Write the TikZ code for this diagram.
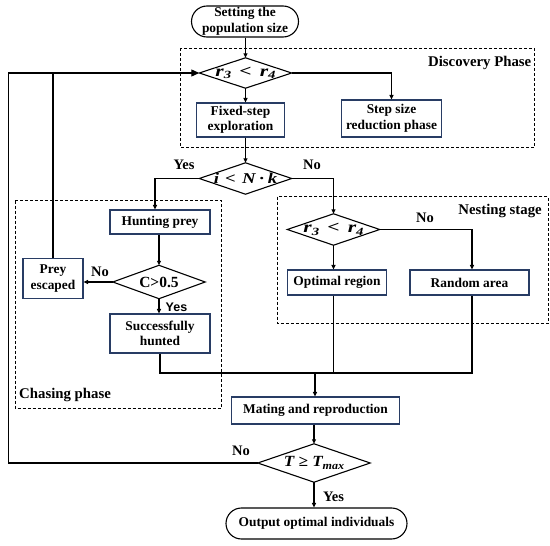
\documentclass[tikz,border=0pt]{standalone}
\usepackage{fontspec}
\usepackage{graphicx}
\setmainfont{Liberation Serif}
\newfontfamily\arialf{Liberation Sans}
\usetikzlibrary{shapes.misc,arrows.meta}
\definecolor{bx}{RGB}{40,60,100}
\newcommand\mysub[1]{\raisebox{-2.5pt}{\fontsize{11}{11}\selectfont\itshape #1}}
\newcommand\mylab[2]{\scalebox{#1}[1]{\bfseries\itshape #2}}
\begin{document}
\begin{tikzpicture}[x=1pt,y=-1pt,
  every node/.style={font=\bfseries\fontsize{13.4}{15.5}\selectfont, inner sep=0pt, align=center},
  pbox/.style={draw=bx, line width=1.1pt, rectangle},
  term/.style={draw=black, line width=1.1pt, rounded rectangle},
  dia/.style={rectangle},
  conn/.style={line width=1.1pt},
  arr/.style={conn, -{Triangle[length=4.5pt,width=4pt]}},
  bigarr/.style={conn, -{Triangle[length=8pt,width=7pt]}},
  dbox/.style={dashed, line width=1pt, dash pattern=on 3pt off 2pt},
  plbl/.style={font=\bfseries\fontsize{14.8}{17}\selectfont},
  lbl/.style={font=\bfseries\fontsize{14.5}{17}\selectfont}]
\useasboundingbox (0,0) rectangle (550,546);

% dashed phase boxes
\draw[dbox] (180.5,48) rectangle (534.5,147.3);
\draw[dbox] (15.2,200.7) rectangle (221.4,408.3);
\draw[dbox] (277.5,196.7) rectangle (548.3,323.3);
\node[plbl, anchor=east] (lDisc) at (531.5,63) {Discovery Phase};
\node[plbl, anchor=east] (lNest) at (542,211) {Nesting stage};
\node[plbl, anchor=west] (lChase) at (19,395) {Chasing phase};

% nodes
\node[term, minimum width=107, minimum height=31] (start) at (245,21.5) {Setting the\\population size};
\node[dia, minimum width=92, minimum height=30] (d1) at (245.5,73) {\fontsize{16}{16}\selectfont\mylab{1.35}{r\mysub{3}\hspace{6pt}<\hspace{6pt}r\mysub{4}}};
\node[pbox, minimum width=88, minimum height=34] (fix) at (240.5,120) {Fixed-step\\exploration};
\node[pbox, minimum width=100, minimum height=37] (step) at (391.5,118.5) {Step size\\reduction phase};
\node[dia, minimum width=92, minimum height=31] (d2) at (245.5,178.5) {\fontsize{15}{15}\selectfont\mylab{1.25}{i\hspace{5pt}<\hspace{5pt}N\hspace{3pt}·\hspace{3pt}k}};
\node[pbox, minimum width=100, minimum height=24] (hunt) at (160,222) {Hunting prey};
\node[dia, minimum width=92, minimum height=33] (c) at (159,282) {\fontsize{15.5}{15.5}\selectfont C>0.5};
\node[pbox, minimum width=60, minimum height=40] (prey) at (53,278.5) {Prey\\escaped};
\node[pbox, minimum width=100, minimum height=39] (succ) at (160,333.5) {Successfully\\hunted};
\node[dia, minimum width=92, minimum height=31] (d3) at (333.5,229.5) {\fontsize{16}{16}\selectfont\mylab{1.35}{r\mysub{3}\hspace{6pt}<\hspace{6pt}r\mysub{4}}};
\node[pbox, minimum width=99, minimum height=25] (opt) at (337,282.5) {Optimal region};
\node[pbox, minimum width=119, minimum height=25] (rand) at (469.5,282.5) {Random area};
\node[pbox, minimum width=168, minimum height=27] (mate) at (315.5,410.5) {Mating and reproduction};
\node[dia, minimum width=112, minimum height=38] (d4) at (314,463) {\fontsize{15.5}{15.5}\selectfont\mylab{1.1}{T\hspace{4pt}≥\hspace{4pt}T\mysub{max}}};
\node[term, minimum width=181, minimum height=31] (out) at (316.5,523.5) {Output optimal individuals};

% diamond outlines
\foreach \d in {d1,d2,c,d3,d4}
  \draw[line width=1.1pt] (\d.north) -- (\d.east) -- (\d.south) -- (\d.west) -- cycle;

% branch labels
\node[lbl] (yes1) at (184,165) {Yes};
\node[lbl] (no1) at (312,165) {No};
\node[lbl] (no2) at (100,272) {No};
\node[font=\arialf\bfseries\fontsize{12.5}{14}\selectfont] (yes2) at (176.5,307) {Yes};
\node[lbl] (no3) at (425,218) {No};
\node[lbl] (no4) at (241,451) {No};
\node[lbl] (yes3) at (333.5,497) {Yes};

% helper coordinates
\coordinate (hl) at (155,0);
\coordinate (rl) at (472,0);
\coordinate (mj) at (315,373);
\coordinate (L1) at (8.8,0);

% connectors
\draw[arr] (d1.north|-start.south) -- (d1.north);
\draw[arr] (d1.south) -- (d1.south|-fix.north);
\draw[arr] (d1.east) -| (step.north);
\draw[arr] (d2.north|-fix.south) -- (d2.north);
\draw[arr] (d2.west) -| (hl|-hunt.north);
\draw[arr] (d2.east) -| (d3.north);
\draw[arr] (c.north|-hunt.south) -- (c.north);
\draw[arr] (c.west) -- (c.west-|prey.east);
\draw[arr] (c.south) -- (c.south|-succ.north);
\draw[arr] (d3.south) -- (d3.south|-opt.north);
\draw[arr] (d3.east) -| (rl|-rand.north);
\draw[conn] (succ.south) |- (rl|-mj) -- (rl|-rand.south);
\draw[conn] (d3.south|-opt.south) -- (d3.south|-mj);
\draw[arr] (mj) -- (mj|-mate.north);
\draw[arr] (d4.north|-mate.south) -- (d4.north);
\draw[arr] (d4.south) -- (d4.south|-out.north);
\draw[bigarr] (d4.west) -| (L1|-d1.west) -- (d1.west);
\draw[conn] (prey.north) -- (prey.north|-d1.west);
\end{tikzpicture}
\end{document}
